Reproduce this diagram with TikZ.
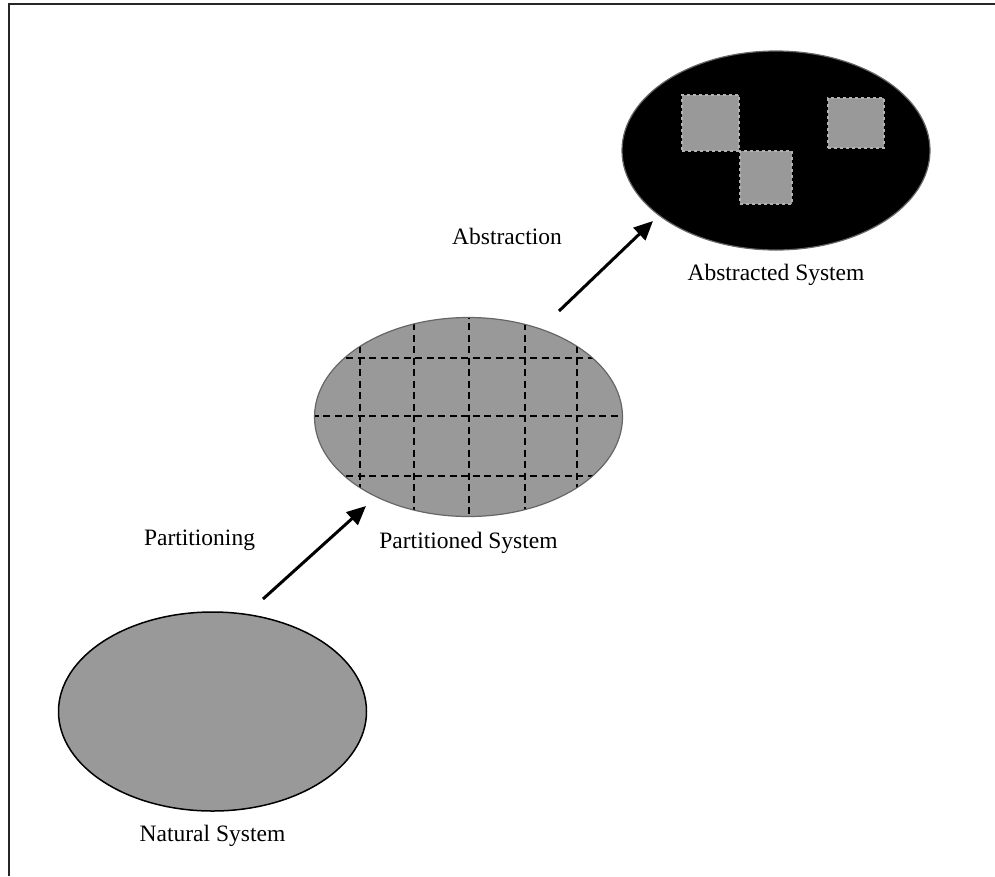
\documentclass[tikz,border=0pt]{standalone}
\usepackage{fontspec}
\setmainfont{Liberation Serif}
\usetikzlibrary{shapes.geometric, arrows.meta, positioning}

\begin{document}
\begin{tikzpicture}[x=1pt, y=-1pt, font=\fontsize{23.5}{28}\selectfont,
    sys/.style={ellipse, fill=black!40, minimum width=308pt, minimum height=199pt, inner sep=0pt},
    part/.style={rectangle, fill=black!40, draw=black!30, dashed, line width=1.2pt, inner sep=0pt},
    cut/.style={dash pattern=on 7pt off 4.5pt, line width=2pt},
    flow/.style={-{Triangle[length=19pt, width=17pt]}, line width=3pt}]
    \useasboundingbox (0,0) rectangle (995,876);
    \draw[line width=2pt, black!85] (8.5,876) -- (8.5,3.5) -- (995,3.5);

    \node[sys, draw=black, line width=1.5pt] (nat) at (212.5,711.5) {};
    \node[sys, draw=black!60, line width=1.2pt] (prt) at (468.5,417) {};
    \node[sys, draw=black!60, fill=black, line width=1.2pt] (abs) at (776,150.5) {};

    % grid cut through the partitioned system
    \begin{scope}
        \clip (prt.center) ellipse [x radius=153.5pt, y radius=99pt];
        \foreach \x in {360,414,469,525,577}
            \draw[cut] (\x,300) -- (\x,540);
        \foreach \y in {358,416,476}
            \draw[cut] (300,\y) -- (640,\y);
    \end{scope}

    % parts kept in the abstraction
    \node[part, minimum width=57pt, minimum height=56pt] (sq1) at (710.5,123) {};
    \node[part, minimum width=52pt, minimum height=53pt] (sq2) at (766,177.5) {};
    \node[part, minimum width=56pt, minimum height=50pt] (sq3) at (856,123) {};

    \node[below=10pt of nat] (natlbl) {Natural System};
    \node[below=12pt of prt] (prtlbl) {Partitioned System};
    \node[below=10pt of abs] (abslbl) {Abstracted System};

    \coordinate (a1s) at (263,599);
    \coordinate (a1e) at (366,506);
    \coordinate (a2s) at (559,311);
    \coordinate (a2e) at (653,221);
    \draw[flow] (a1s) -- (a1e);
    \draw[flow] (a2s) -- (a2e);

    \node (partlbl) at (199.5,540) {Partitioning};
    \node (abstlbl) at (507,236) {Abstraction};
\end{tikzpicture}
\end{document}
